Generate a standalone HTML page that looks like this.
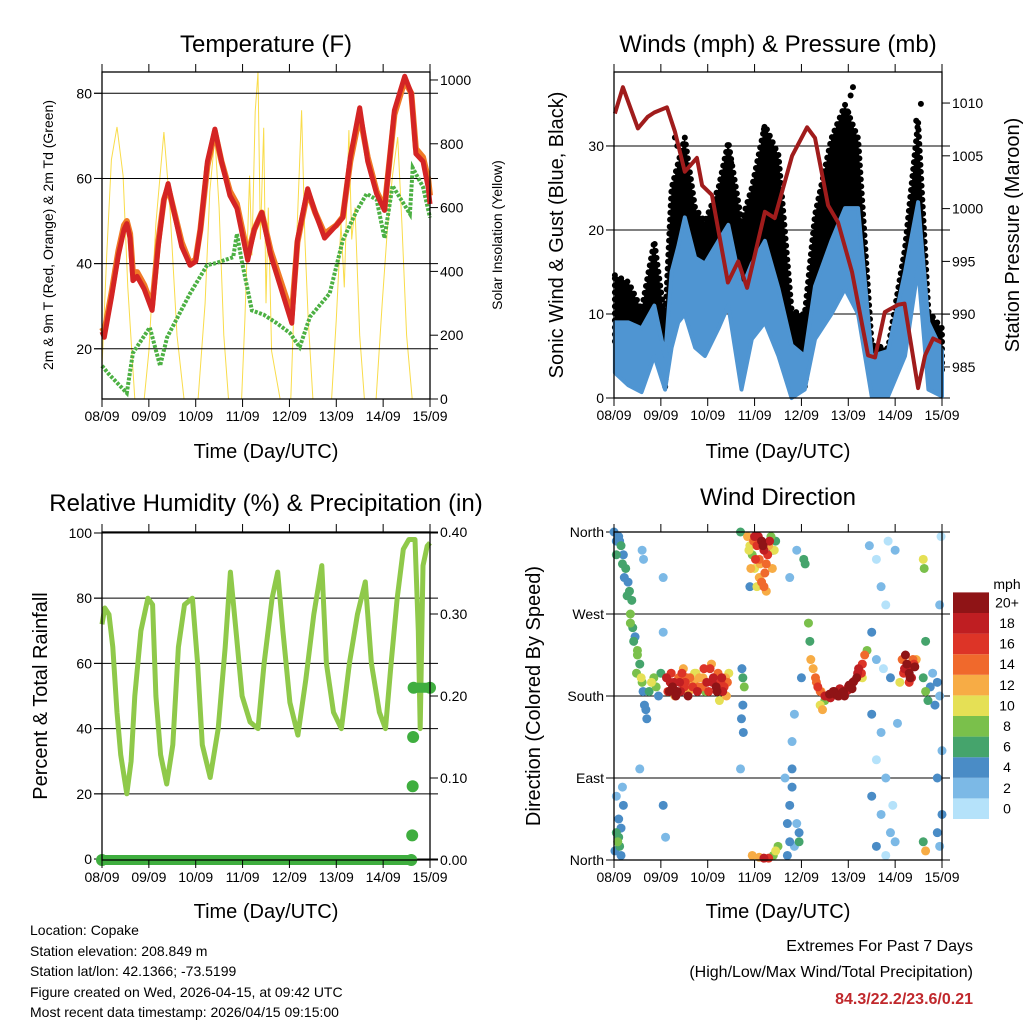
<!DOCTYPE html>
<html><head><meta charset="utf-8"><style>
html,body{margin:0;padding:0;background:#fff;}
svg{display:block;font-family:"Liberation Sans",sans-serif;}
</style></head><body>
<svg id="fig" width="1024" height="1024" viewBox="0 0 1024 1024" xmlns="http://www.w3.org/2000/svg">
<rect width="1024" height="1024" fill="#fff"/>
<text x="266" y="52" font-size="24" text-anchor="middle">Temperature (F)</text>
<text x="778" y="52" font-size="24" text-anchor="middle">Winds (mph) &amp; Pressure (mb)</text>
<text x="266" y="511" font-size="24" text-anchor="middle">Relative Humidity (%) &amp; Precipitation (in)</text>
<text x="778" y="505" font-size="24" text-anchor="middle">Wind Direction</text>
<text x="266" y="458" font-size="20" text-anchor="middle">Time (Day/UTC)</text>
<text x="778" y="458" font-size="20" text-anchor="middle">Time (Day/UTC)</text>
<text x="266" y="918" font-size="20" text-anchor="middle">Time (Day/UTC)</text>
<text x="778" y="918" font-size="20" text-anchor="middle">Time (Day/UTC)</text>
<text transform="translate(53,235) rotate(-90)" font-size="14" text-anchor="middle">2m &amp; 9m T (Red, Orange) &amp; 2m Td (Green)</text>
<text transform="translate(502,235) rotate(-90)" font-size="14" text-anchor="middle">Solar Insolation (Yellow)</text>
<text transform="translate(563,235) rotate(-90)" font-size="20" text-anchor="middle">Sonic Wind &amp; Gust (Blue, Black)</text>
<text transform="translate(1019,235) rotate(-90)" font-size="20" text-anchor="middle">Station Pressure (Maroon)</text>
<text transform="translate(47,696) rotate(-90)" font-size="20" text-anchor="middle">Percent &amp; Total Rainfall</text>
<text transform="translate(540,696) rotate(-90)" font-size="20" text-anchor="middle">Direction (Colored By Speed)</text>
<g font-size="14">
<text x="30" y="935">Location: Copake</text>
<text x="30" y="956">Station elevation: 208.849 m</text>
<text x="30" y="976">Station lat/lon: 42.1366; -73.5199</text>
<text x="30" y="997">Figure created on Wed, 2026-04-15, at 09:42 UTC</text>
<text x="30" y="1017">Most recent data timestamp: 2026/04/15 09:15:00</text>
</g>
<text x="973" y="951" font-size="16" text-anchor="end">Extremes For Past 7 Days</text>
<text x="973" y="977" font-size="16" text-anchor="end">(High/Low/Max Wind/Total Precipitation)</text>
<text x="973" y="1004" font-size="16" font-weight="bold" fill="#c0282c" text-anchor="end">84.3/22.2/23.6/0.21</text>
</svg>
<script>
const dayLabels=["08/09","09/09","10/09","11/09","12/09","13/09","14/09","15/09"];
const tempTimes=[0,0.05,0.2,0.35,0.47,0.53,0.6,0.66,0.75,0.9,1.07,1.2,1.32,1.41,1.5,1.7,1.88,2.0,2.1,2.25,2.41,2.55,2.73,2.88,3.11,3.25,3.41,3.6,3.9,4.05,4.17,4.39,4.55,4.75,5.0,5.14,5.3,5.5,5.67,5.86,6.03,6.24,6.46,6.6,6.7,6.85,6.96,7.0];
const temp2m=[24,22.7,32,42,48,49.4,46,36,37,34,29,44,55,58.8,54,44,39.6,40.5,48,64,71.6,64,56,53,40.8,48,52,42,31.4,26,45.5,57.6,52,46,49,50.8,65,76.6,64,56.4,52.5,76,84,80,65.8,64,58,54];
const temp9m=[25,24,33,43,49,50,47,38,38,35,30,45,55,58,54,45,40,41,48,63,71,64,57,54,42,48,52,43,33,28,45,57,52,47,49,51,64,75,65,57,53,75,83,80,67,65,60,56];
const dewTimes=[0,0.15,0.53,0.66,1.02,1.24,1.39,1.88,2.24,2.45,2.8,2.88,2.98,3.2,3.45,3.73,4.01,4.22,4.44,4.86,5.14,5.44,5.65,5.86,6.03,6.2,6.57,6.63,6.85,7.0];
const dewValues=[16,14,9.6,19,25,16,22.7,33,39.6,40.2,41.5,47,40.8,29,28,26,23.7,20.4,27.5,33,45.5,52.5,56.4,55,46,58.3,51.7,62.5,58,50.8];
const solarTimes=[0,0.1,0.2,0.32,0.45,0.55,0.7,0.9,1.0,1.15,1.32,1.45,1.6,1.75,2.05,2.2,2.3,2.41,2.5,2.6,2.7,2.98,3.05,3.15,3.2,3.27,3.33,3.38,3.45,3.5,3.55,3.62,3.8,4.03,4.1,4.18,4.26,4.33,4.4,4.5,4.9,5.0,5.1,5.17,5.27,5.33,5.4,5.5,5.6,5.85,5.98,6.1,6.2,6.31,6.4,6.5,6.62,7.0];
const solarValues=[100,450,750,853,700,350,0,0,150,550,837,600,200,0,0,300,650,821,600,200,0,0,250,700,450,900,1025,500,850,300,600,150,0,0,300,600,905,500,250,0,0,250,550,350,843,500,600,200,0,0,300,550,700,821,550,200,0,0];
const presTimes=[0.02,0.19,0.51,0.72,0.86,1.13,1.3,1.51,1.77,1.88,2.09,2.43,2.65,2.84,3.22,3.43,3.8,4.12,4.29,4.57,4.78,5.08,5.42,5.57,5.78,6.06,6.2,6.49,6.64,6.81,7.0];
const presValues=[1009,1011.5,1007.6,1008.7,1009.1,1009.6,1007.3,1003.5,1004.8,1002.2,1001.3,993,995,992.5,999.7,999.1,1005,1007.7,1006.7,1000.3,998.7,994,986.1,985.9,990.2,990.9,991,983,986.1,987.7,987.3];
const windTimes=[0.02,0.31,0.59,0.86,1.09,1.23,1.37,1.51,1.73,1.94,2.23,2.44,2.72,2.94,3.22,3.51,3.79,4.07,4.29,4.64,4.93,5.21,5.5,5.85,6.21,6.49,6.71,7.0];
const windHigh=[9,9,8.3,11,5,15,18,21.5,16.7,16,18.7,20.6,13,16,18.7,13,6.3,5,13.3,18.7,22.6,22.6,5,5.6,15,23.3,9,5.6];
const windLow=[3,1.5,0.7,5,1,6,9,10,6,5,8.3,11,1,7,9,5,0,1,7,10,13,10,0.2,0.2,5,15.5,1,0.2];
const gustHigh=[14.6,13.8,10.5,18.7,9,25,28,31,22.6,21,25,30.5,21,25,32.5,28.9,10.4,9.9,21.8,30.9,34.9,30.9,6.3,5.9,17.8,32.9,10.3,8.3];
const gustLow=[6.7,5,3,9,1.2,13,14,15,11,9,13,17,7,13,17,11,3,1.2,11,17,23,17,1.2,1.2,7,19,3,3];
const gustDotTimes=[1.35,1.5,2.45,2.5,3.2,3.3,5.0,5.05,5.1,6.45,6.55,1.3];
const gustDotValues=[30,29,29,28,32,31,34,36,37,33,35,31];
const rhTimes=[0,0.06,0.15,0.23,0.32,0.4,0.53,0.62,0.7,0.83,0.98,1.08,1.15,1.25,1.38,1.51,1.63,1.76,1.93,2.04,2.14,2.31,2.48,2.63,2.74,2.86,2.99,3.16,3.33,3.46,3.63,3.75,3.86,4.01,4.18,4.35,4.52,4.69,4.79,4.94,5.11,5.28,5.45,5.62,5.75,5.92,6.05,6.17,6.3,6.43,6.55,6.68,6.75,6.79,6.85,6.94,7.0];
const rhValues=[72,77,75,65,45,32,20,30,50,70,80,78,50,32,23,35,65,78,80,60,35,25,40,65,88,70,50,42,40,60,80,88,70,48,38,55,75,90,60,45,40,60,75,85,60,45,40,60,80,95,98,98,70,40,90,96,97];
const rainTimes=[0,6.6,6.62,6.63,6.64,6.65,7.0];
const rainValues=[0,0,0.03,0.09,0.15,0.21,0.21];
const dirTimes=[0.1,0.15,0.2,0.25,0.3,0.33,0.38,0.35,0.4,0.45,0.5,0.55,0.48,0.6,0.62,0.65,0.68,0.7,0.0,0.05,0.05,0.08,0.12,0.02,0.15,0.1,0.2,0.18,0.05,0.8,0.85,0.9,0.75,1.0,0.95,0.6,0.63,0.55,1.05,1.05,1.05,1.1,1.15,1.2,1.25,1.35,1.4,1.5,1.55,1.6,1.7,1.75,1.8,1.9,1.95,2.05,2.1,2.2,2.3,2.35,2.4,2.25,1.3,1.45,2.73,2.75,2.78,2.75,2.72,2.76,2.7,2.7,2.85,2.9,2.95,3.0,3.05,3.1,3.15,3.2,3.25,3.3,3.35,3.4,3.0,3.1,3.2,3.45,2.9,2.95,3.1,3.2,3.3,3.4,3.45,3.5,3.7,3.75,3.8,3.75,3.85,3.9,3.95,3.7,3.8,3.65,3.8,3.85,4.0,3.9,3.75,3.95,4.05,4.08,4.15,4.18,4.2,4.25,4.3,4.35,4.4,4.5,4.6,4.7,4.8,4.9,5.0,5.1,5.2,5.3,5.35,4.4,4.45,4.5,5.4,5.3,5.45,5.6,5.7,5.8,5.5,5.6,5.75,5.9,5.5,5.7,5.6,5.8,5.5,5.7,5.9,5.6,5.8,6.0,5.95,6.05,5.85,6.0,6.15,6.2,6.25,6.3,6.35,6.4,6.45,6.1,6.3,6.6,6.65,6.7,6.75,6.8,6.85,6.9,6.95,6.65,6.6,6.62,6.6,6.65,6.9,6.95,7.0,6.9,7.0,6.98,6.95];
const dirValues=[355,345,335,320,305,295,285,270,255,245,230,215,205,195,185,170,165,155,360,350,30,20,15,10,5,45,60,80,70,195,200,190,185,205,180,340,330,100,250,310,60,25,185,195,190,185,195,190,200,185,195,205,190,200,185,210,195,185,200,190,180,175,180,205,210,200,190,170,155,140,100,360,355,345,335,355,345,330,350,340,325,345,355,340,320,310,300,350,300,5,3,2,2,5,10,15,40,60,80,20,15,40,30,5,100,90,130,160,200,340,310,20,330,325,260,240,220,210,200,190,185,180,182,185,180,185,190,195,205,215,225,170,165,175,230,200,345,330,300,280,250,220,210,200,160,140,110,90,70,50,30,15,5,20,60,150,350,340,220,210,215,205,200,215,220,195,195,200,185,175,190,205,170,195,180,240,330,320,20,10,30,15,50,90,120,355,280];
const dirSpeeds=[4,6,4,6,4,6,6,8,6,4,8,6,8,8,4,4,4,4,4,4,6,8,6,4,4,4,4,2,2,10,8,8,6,6,4,2,1,2,2,2,3,2,16,18,20,20,18,16,14,12,12,10,14,12,8,16,18,20,18,16,12,10,12,16,4,6,8,4,4,4,1,6,12,10,8,18,16,14,20,18,14,12,8,6,10,12,14,6,4,12,12,18,16,8,10,8,4,4,4,4,2,2,4,4,4,2,2,2,4,2,2,6,6,6,8,6,12,12,14,16,14,18,20,20,18,20,18,20,18,16,14,10,12,8,8,10,2,0,2,0,4,2,0,4,4,2,0,2,4,2,2,4,0,2,0,2,0,2,14,18,20,20,18,16,12,10,16,6,8,6,4,2,4,4,2,6,10,8,6,12,4,2,4,4,2,0,2];
const dirTimesExtra=[1.12,1.18,1.22,1.28,1.32,1.38,1.42,1.48,1.52,1.58,1.62,1.68,1.72,1.78,1.82,1.88,1.92,1.98,2.02,2.08,2.12,2.18,2.22,2.28,2.32,2.38,2.42,2.45,2.88,2.92,2.98,3.02,3.08,3.12,3.18,3.22,3.28,3.32,3.38,3.42,3.05,3.15,3.25,4.32,4.42,4.52,4.62,4.68,4.72,4.78,4.82,4.88,4.92,4.98,5.02,5.08,5.12,5.18,5.22,5.28,6.18,6.22,6.28,6.32,6.38,6.42,0.05,0.12,0.18,0.22,0.28,0.35,0.42,0.5,0.58,0.1,0.15];
const dirValuesExtra=[200,185,205,195,180,200,185,210,195,180,200,190,205,185,200,190,210,195,185,215,200,190,205,195,185,200,195,205,340,320,350,330,355,325,345,315,335,350,320,340,300,305,295,195,185,180,178,185,182,180,188,184,180,186,192,188,196,200,210,205,205,225,210,200,220,212,335,350,325,310,290,260,240,225,200,25,35];
const dirSpeedsExtra=[18,20,16,18,20,14,18,12,16,20,14,16,10,18,12,14,16,18,16,12,18,20,14,16,18,12,14,10,10,12,14,16,18,12,20,14,16,18,12,10,10,14,12,14,12,16,18,20,20,22,18,20,22,18,20,22,18,20,18,16,16,20,18,22,14,20,6,4,6,4,6,8,6,8,10,6,4];
const speedLabels=["0","2","4","6","8","10","12","14","16","18","20+"];
const speedColors=["#b5e2fa","#7cb9e6","#4a8cc6","#45a46c","#7ac04b","#e5e055","#f7ac45","#f0692c","#dd3427","#bf1e22","#8f1416"];
const dirLabels=["North","East","South","West","North"];

const NS="http://www.w3.org/2000/svg";
const svg=document.getElementById('fig');
function mk(tag,attrs,parent){const e=document.createElementNS(NS,tag);for(const k in attrs)e.setAttribute(k,attrs[k]);(parent||svg).appendChild(e);return e;}
function grp(name){const g=mk('g',{});return g;}
function xs(b,t){return b.x0+t/7*(b.x1-b.x0);}
function ys(b,lo,hi,v){return b.y1-(v-lo)/(hi-lo)*(b.y1-b.y0);}
function path(b,lo,hi,T,V){let d='';for(let i=0;i<T.length;i++){d+=(i?'L':'M')+xs(b,T[i]).toFixed(1)+' '+ys(b,lo,hi,V[i]).toFixed(1);}return d;}

const B1={x0:102,x1:430,y0:72,y1:399}, B2={x0:614,x1:942,y0:72,y1:398}, B3={x0:102,x1:430,y0:532,y1:860}, B4={x0:614,x1:942,y0:532,y1:860};

function frame(b,name){
  const g=grp(name+'-axes');
  mk('rect',{x:b.x0,y:b.y0,width:b.x1-b.x0,height:b.y1-b.y0,fill:'none',stroke:'#000','stroke-width':1.3},g);
  for(let i=0;i<dayLabels.length;i++){
    const x=xs(b,i);
    mk('line',{x1:x,x2:x,y1:b.y1,y2:b.y1+8,stroke:'#000','stroke-width':1},g);
    mk('line',{x1:x,x2:x,y1:b.y0,y2:b.y0-8,stroke:'#000','stroke-width':1},g);
    const t=mk('text',{x:x,y:b.y1+22,'font-size':14,'text-anchor':'middle'},g);t.textContent=dayLabels[i];
  }
}
function leftAxis(b,lo,hi,vals,labels,name,grid){
  const g=grp(name);
  vals.forEach((v,i)=>{const y=ys(b,lo,hi,v);
    mk('line',{x1:b.x0-8,x2:b.x0,y1:y,y2:y,stroke:'#000','stroke-width':1},g);
    if(grid)mk('line',{x1:b.x0-8,x2:b.x1+8,y1:y,y2:y,stroke:'#000','stroke-width':1},g);
    const t=mk('text',{x:b.x0-10,y:y+5,'font-size':14,'text-anchor':'end'},g);t.textContent=labels[i];});
}
function rightAxis(b,lo,hi,vals,labels,name){
  const g=grp(name);
  vals.forEach((v,i)=>{const y=ys(b,lo,hi,v);
    mk('line',{x1:b.x1,x2:b.x1+8,y1:y,y2:y,stroke:'#000','stroke-width':1},g);
    const t=mk('text',{x:b.x1+10,y:y+5,'font-size':14,'text-anchor':'start'},g);t.textContent=labels[i];});
}

// Panel 1
const T_LO=8.2,T_HI=85,S_LO=0,S_HI=1025;
const tempTicks=[20,40,60,80], solarTicks=[0,200,400,600,800,1000];
const ps=mk('path',{d:path(B1,S_LO,S_HI,solarTimes,solarValues),fill:'none',stroke:'#f9dc4a','stroke-width':1});


leftAxis(B1,T_LO,T_HI,tempTicks,tempTicks.map(String),'temp-left-axis',true);
rightAxis(B1,S_LO,S_HI,solarTicks,solarTicks.map(String),'solar-right-axis');
const pd=mk('path',{d:path(B1,T_LO,T_HI,dewTimes,dewValues),fill:'none',stroke:'#4cb043','stroke-width':4,'stroke-dasharray':'3 1.5'});


const po=mk('path',{d:path(B1,T_LO,T_HI,tempTimes,temp9m),fill:'none',stroke:'#f07a26','stroke-width':6,'stroke-linejoin':'round'});


const pr=mk('path',{d:path(B1,T_LO,T_HI,tempTimes,temp2m),fill:'none',stroke:'#d42424','stroke-width':5,'stroke-linejoin':'round'});


frame(B1,'temperature');

// Panel 2
const W_LO=0,W_HI=38.8,P_LO=982.06,P_HI=1012.94;
const windTicks=[0,10,20,30], presTicks=[985,990,995,1000,1005,1010];
leftAxis(B2,W_LO,W_HI,windTicks,windTicks.map(String),'wind-left-axis',true);
rightAxis(B2,P_LO,P_HI,presTicks,presTicks.map(String),'pressure-right-axis');
function band(b,lo,hi,T,H,L){let d=path(b,lo,hi,T,H);for(let i=T.length-1;i>=0;i--)d+='L'+xs(b,T[i]).toFixed(1)+' '+ys(b,lo,hi,L[i]).toFixed(1);return d+'Z';}
const gb=mk('path',{d:band(B2,W_LO,W_HI,windTimes,gustHigh,gustLow),fill:'#000',stroke:'#000','stroke-width':6,'stroke-linecap':'round','stroke-linejoin':'round','stroke-dasharray':'0 7'});


const gd=grp('gust-outlier-dots');
gustDotTimes.forEach((t,i)=>{const c=mk('circle',{cx:xs(B2,t),cy:ys(B2,W_LO,W_HI,gustDotValues[i]),r:3,fill:'#000'},gd);

});
const wb=mk('path',{d:band(B2,W_LO,W_HI,windTimes,windHigh,windLow),fill:'#4f95d2',stroke:'#4f95d2','stroke-width':4,'stroke-linejoin':'round'});


const pp=mk('path',{d:path(B2,P_LO,P_HI,presTimes,presValues),fill:'none',stroke:'#a01c1c','stroke-width':4,'stroke-linejoin':'round'});


frame(B2,'winds');

// Panel 3
const H_LO=-0.3,H_HI=100.3,R_LO=0,R_HI=0.4;
const rhTicks=[0,20,40,60,80,100], rainTicks=[0,0.1,0.2,0.3,0.4];
leftAxis(B3,H_LO,H_HI,rhTicks,rhTicks.map(String),'humidity-left-axis',true);
rightAxis(B3,R_LO,R_HI,rainTicks,rainTicks.map(v=>v.toFixed(2)),'rain-right-axis');
const ph=mk('path',{d:path(B3,H_LO,H_HI,rhTimes,rhValues),fill:'none',stroke:'#8fc94a','stroke-width':5,'stroke-linejoin':'round'});


const rg=grp('rainfall-line');
for(let i=1;i<rainTimes.length;i++){ if(rainValues[i]!==rainValues[i-1]) continue;
  const y=ys(B3,R_LO,R_HI,rainValues[i]);
  const l=mk('line',{x1:xs(B3,rainTimes[i-1]),x2:xs(B3,rainTimes[i]),y1:y,y2:y,stroke:'#3fae3f','stroke-width':10,'stroke-linecap':'round'},rg);
  
  }
const rd=grp('rainfall-dots');
rainTimes.forEach((t,i)=>{const c=mk('circle',{cx:xs(B3,t),cy:ys(B3,R_LO,R_HI,rainValues[i]),r:6,fill:'#3fae3f'},rd);

});
frame(B3,'humidity');

// Panel 4
const D_LO=0,D_HI=360;
const dirTicks=[0,90,180,270,360];
leftAxis(B4,D_LO,D_HI,dirTicks,dirLabels,'direction-left-axis',true);
const dg=grp('direction-points');
const allT=dirTimes.concat(dirTimesExtra), allD=dirValues.concat(dirValuesExtra), allS=dirSpeeds.concat(dirSpeedsExtra);
const order=allT.map((t,i)=>i).sort((a,b)=>allS[a]-allS[b]);
order.forEach(i=>{const s=allS[i];const ci=Math.min(10,Math.max(0,Math.round(s/2)));
const c=mk('circle',{cx:xs(B4,allT[i]),cy:ys(B4,D_LO,D_HI,allD[i]),r:4.5,fill:speedColors[ci]},dg);

});
frame(B4,'direction');
const cb=grp('speed-colorbar');
const cbT=mk('text',{x:1007,y:589,'font-size':14,'text-anchor':'middle'},cb);cbT.textContent='mph';
speedLabels.forEach((l,i)=>{const y=819-(i+1)*20.6;
const r=mk('rect',{x:953,y:y,width:36,height:20.6,fill:speedColors[i]},cb);


const t=mk('text',{x:1007,y:y+15,'font-size':14,'text-anchor':'middle'},cb);t.textContent=l;});
</script>
</body></html>
